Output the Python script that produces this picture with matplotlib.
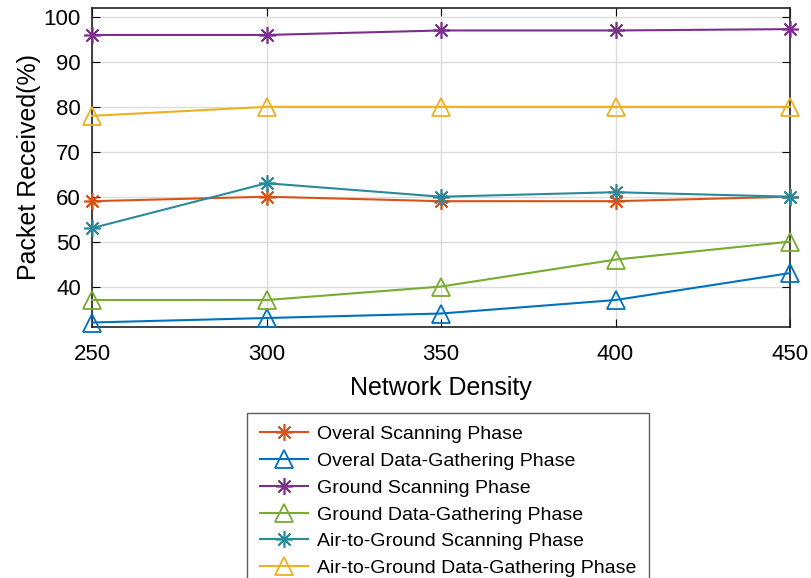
import numpy as np
import matplotlib
matplotlib.use('Agg')
import matplotlib.pyplot as plt

plt.rcParams['font.family'] = ['Liberation Sans', 'DejaVu Sans']

density = [250, 300, 350, 400, 450]
overal_scan = [59, 60, 59, 59, 60]
overal_gather = [32, 33, 34, 37, 43]
ground_scan = [96, 96, 97, 97, 97.3]
ground_gather = [37, 37, 40, 46, 50]
a2g_scan = [53, 63, 60, 61, 60]
a2g_gather = [78, 80, 80, 80, 80]

labels = ['Overal Scanning Phase', 'Overal Data-Gathering Phase',
          'Ground Scanning Phase', 'Ground Data-Gathering Phase',
          'Air-to-Ground Scanning Phase', 'Air-to-Ground Data-Gathering Phase']
series = [overal_scan, overal_gather, ground_scan, ground_gather, a2g_scan, a2g_gather]
colors = ['#d95319', '#0072bd', '#7e2f8e', '#77ac30', '#2b8a99', '#edb120']
markers = [(8, 2, 0), '^', (8, 2, 0), '^', (8, 2, 0), '^']

fig = plt.figure(figsize=(8.11, 5.78), dpi=100)
ax = fig.add_axes([92/811, 1-327/578, (790-92)/811, (327-8)/578])

for y, lab, c, m in zip(series, labels, colors, markers):
    if m == '^':
        ax.plot(density, y, color=c, lw=1.5, marker='^', ms=13, mfc='none', mew=1.3,
                label=lab, clip_on=False, zorder=3)
    else:
        ax.plot(density, y, color=c, lw=1.5, marker=m, ms=12, mew=1.2,
                label=lab, clip_on=False, zorder=3)

ax.set_xlim(250, 450)
ax.set_ylim(31, 102)
ax.set_xticks(density)
ax.set_yticks(range(40, 101, 10))
ax.grid(True, color='#dcdcdc', lw=1)
ax.tick_params(direction='in', top=True, right=True, length=6, labelsize=16)
ax.tick_params(axis='x', pad=12)
ax.tick_params(axis='y', pad=8)
for s in ax.spines.values():
    s.set_linewidth(1.2)
    s.set_color('#222222')
ax.set_xlabel('Network Density', fontsize=18, labelpad=8)
ax.set_ylabel('Packet Received(%)', fontsize=18, labelpad=2)

leg = fig.legend(loc='upper left', bbox_to_anchor=(247/811, 1-413/578), borderaxespad=0,
                 fontsize=14, frameon=True, fancybox=False, edgecolor='#333333',
                 handlelength=2.5, handletextpad=0.45, labelspacing=0.47, borderpad=0.65)
leg.get_frame().set_linewidth(1)

fig.savefig('out.png', dpi=100)
